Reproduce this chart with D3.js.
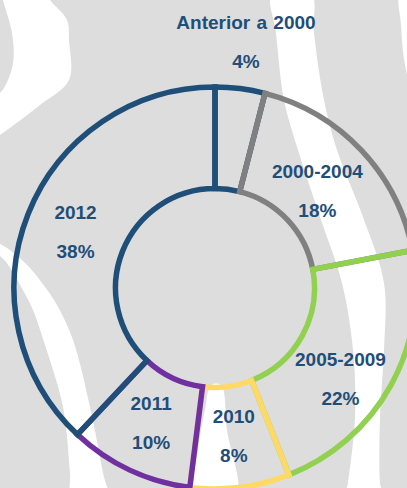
<!DOCTYPE html>
<html>
<head>
<meta charset="utf-8">
<script src="https://cdn.jsdelivr.net/npm/d3@7"></script>
<style>
  html, body { margin: 0; padding: 0; background: #dddddd; }
  svg { display: block; }
</style>
</head>
<body>
<svg id="chart" width="407" height="488"></svg>
<script>
// ---- data ----
const categories = ["Anterior a 2000", "2000-2004", "2005-2009", "2010", "2011", "2012"];
const values = [4, 18, 22, 8, 10, 38];
const valueLabels = ["4%", "18%", "22%", "8%", "10%", "38%"];
const colors = ["#1f4e79", "#808080", "#92d050", "#ffd966", "#7030a0", "#1f4e79"];

// ---- layout ----
const W = 407, H = 488;
const cx = 215, cy = 288;
const rInner = 99.5, rOuter = 201;
const strokeW = 5.5;
const labelR = 150;
const outsideLabelR = 247;
// small label nudges (px) per category
const labelNudge = { "2000-2004": [-7, 7], "2005-2009": [-6, 20] };

const svg = d3.select("#chart");

// ---- decorative background (white wavy bands on gray) ----
const bands = [
  [[2,-6],[3,0],[12,33],[13,63],[4,88],[-8,102],[-8,140],[0,135],[40,105],[69,80],[69,40],[67,20],[50,0],[47,-6]],
  [[272,-6],[276,33],[284,100],[298,150],[320,217],[342,283],[353,350],[355,417],[348,483],[346,496],[382,496],[380,483],[380,417],[384,350],[384,283],[363,217],[337,150],[324,100],[314,33],[311,-6]],
  [[400,-6],[414,-6],[414,95],[405,65],[401,25]],
  [[-8,248],[6,262],[24,292],[33,310],[44,342],[63,407],[70,473],[72,496],[107,496],[103,473],[90,407],[73,340],[57,305],[45,287],[30,268],[15,254],[2,245],[-8,241]],
  [[211,385],[221,385],[227,430],[236,496],[195,496],[198,450],[205,410]]
];
svg.append("g").selectAll("path").data(bands).join("path")
  .attr("d", d3.line().curve(d3.curveCatmullRomClosed.alpha(0.5)))
  .attr("fill", "#ffffff");

// ---- donut ----
const pie = d3.pie().sort(null).value(d => d.value)
  .startAngle(0).endAngle(2 * Math.PI);
const data = categories.map((c, i) => ({ cat: c, value: values[i], label: valueLabels[i], color: colors[i] }));
const arcs = pie(data);

const arc = d3.arc().innerRadius(rInner).outerRadius(rOuter);
const g = svg.append("g").attr("transform", `translate(${cx},${cy})`);

g.selectAll("path.slice").data(arcs).join("path")
  .attr("class", "slice")
  .attr("d", arc)
  .attr("fill", "none")
  .attr("stroke", d => d.data.color)
  .attr("stroke-width", strokeW)
  .attr("stroke-linejoin", "miter");

// ---- labels ----
const labelArc = d3.arc().innerRadius(labelR).outerRadius(labelR);
const outsideArc = d3.arc().innerRadius(outsideLabelR).outerRadius(outsideLabelR);

const lg = g.selectAll("g.lbl").data(arcs).join("g")
  .attr("class", "lbl")
  .attr("transform", (d, i) => {
    const c = (i === 0 ? outsideArc : labelArc).centroid(d);
    const n = labelNudge[d.data.cat] || [0, 0];
    return `translate(${c[0] + n[0]},${c[1] + n[1]})`;
  });

const textStyle = sel => sel
  .attr("text-anchor", "middle")
  .attr("font-family", "'Liberation Sans', Arial, sans-serif")
  .attr("font-weight", "bold")
  .attr("font-size", 19)
  .attr("fill", "#1f4e79");

lg.append("text").call(textStyle)
  .attr("y", -14)
  .attr("word-spacing", d => d.index === 0 ? 1 : 0)
  .text(d => d.data.cat);
lg.append("text").call(textStyle)
  .attr("y", 25)
  .text(d => d.data.label);
</script>
</body>
</html>
